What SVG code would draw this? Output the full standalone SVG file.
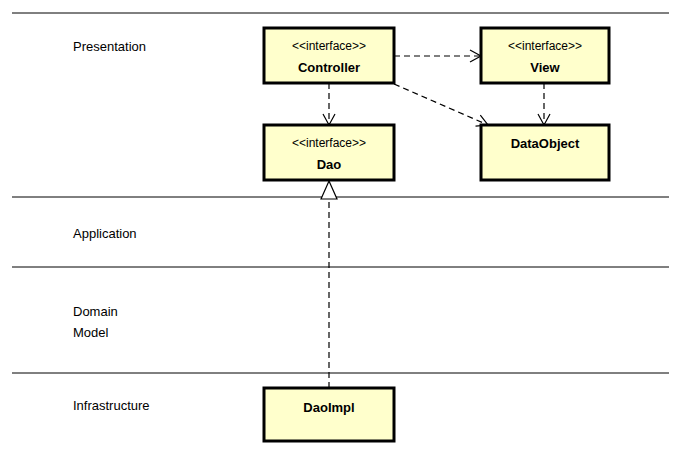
<svg xmlns="http://www.w3.org/2000/svg" width="682" height="450" viewBox="0 0 682 450">
<style>
text{font-family:"Liberation Sans",Arial,sans-serif;font-size:13px;fill:#000}
.b{font-weight:bold;text-anchor:middle}
.s{font-size:12px;text-anchor:middle}
.box{fill:#ffffcc;stroke:#000;stroke-width:3}
.sep{stroke:#000;stroke-width:1}
.c{stroke:#000;stroke-width:1.2;fill:none;stroke-dasharray:6,4}
</style>
<defs>
<marker id="open" markerWidth="14" markerHeight="14" refX="12" refY="7" orient="auto" markerUnits="userSpaceOnUse"><path d="M1,1 L12,7 L1,13" fill="none" stroke="#000" stroke-width="1.2"/></marker>
<marker id="tri" markerWidth="22" markerHeight="20" refX="19" refY="9" orient="auto" markerUnits="userSpaceOnUse"><path d="M1,1 L19,9 L1,17 Z" fill="#fff" stroke="#000" stroke-width="1.2"/></marker>
</defs>
<rect width="682" height="450" fill="#fff"/>
<g id="lanes">
<line class="sep" x1="12" y1="13" x2="669" y2="13"/>
<line class="sep" x1="12" y1="197" x2="669" y2="197"/>
<line class="sep" x1="12" y1="267" x2="669" y2="267"/>
<line class="sep" x1="12" y1="373" x2="669" y2="373"/>
<text x="73" y="51">Presentation</text>
<text x="73" y="238">Application</text>
<text x="73" y="316">Domain</text>
<text x="73" y="337">Model</text>
<text x="73" y="410">Infrastructure</text>
</g>
<g id="connectors">
<line class="c" x1="394" y1="56" x2="481" y2="56" marker-end="url(#open)"/>
<line class="c" x1="329" y1="83" x2="329" y2="125" marker-end="url(#open)"/>
<line class="c" x1="394" y1="84" x2="488" y2="125" marker-end="url(#open)"/>
<line class="c" x1="544" y1="83" x2="544" y2="125" marker-end="url(#open)"/>
<line class="c" x1="329" y1="388" x2="329" y2="181" marker-end="url(#tri)"/>
</g>
<g id="controller"><rect class="box" x="264" y="28" width="130" height="55"/><text class="s" x="329" y="50">&lt;&lt;interface&gt;&gt;</text><text class="b" x="329" y="72">Controller</text></g>
<g id="view"><rect class="box" x="481" y="28" width="128" height="55"/><text class="s" x="545" y="50">&lt;&lt;interface&gt;&gt;</text><text class="b" x="545" y="72">View</text></g>
<g id="dao"><rect class="box" x="264" y="125" width="130" height="55"/><text class="s" x="329" y="147">&lt;&lt;interface&gt;&gt;</text><text class="b" x="329" y="169">Dao</text></g>
<g id="dataobject"><rect class="box" x="481" y="125" width="128" height="55"/><text class="b" x="545" y="148">DataObject</text></g>
<g id="daoimpl"><rect class="box" x="264" y="388" width="130" height="53"/><text class="b" x="329" y="412">DaoImpl</text></g>
</svg>
